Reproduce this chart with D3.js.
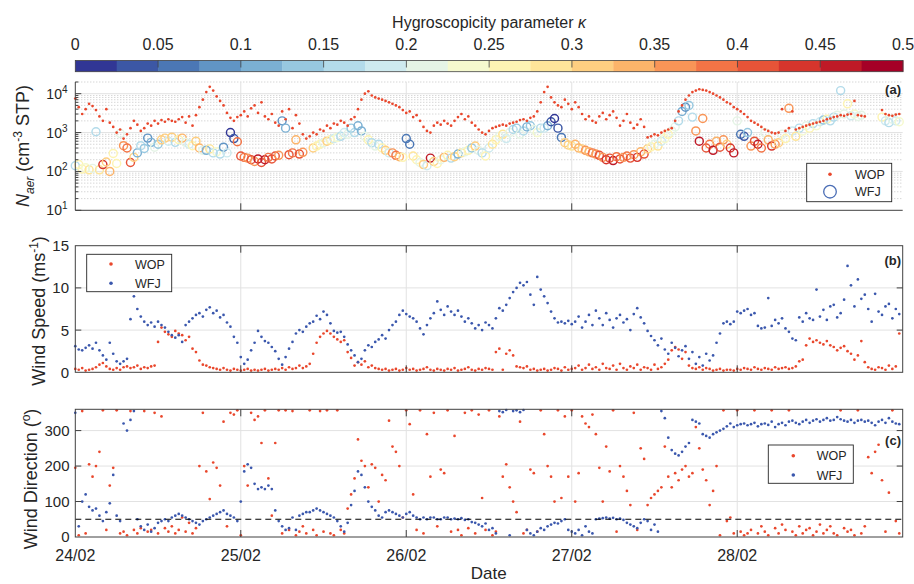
<!DOCTYPE html>
<html><head><meta charset="utf-8">
<script src="https://cdn.jsdelivr.net/npm/d3@7"></script>
<style>
body{margin:0;background:#fff}
svg{display:block}
text{font-family:"Liberation Sans",Arial,Helvetica,sans-serif;fill:#262626}
</style>
</head><body>
<svg id="c" width="914" height="584"></svg>
<script>
// ---------------- DATA ----------------
const dateLabels = ["24/02","25/02","26/02","27/02","28/02"];
const kappaTicks = [0,0.05,0.1,0.15,0.2,0.25,0.3,0.35,0.4,0.45,0.5];
const kappaTickLabels = ["0","0.05","0.1","0.15","0.2","0.25","0.3","0.35","0.4","0.45","0.5"];
const nTicksA = [10,100,1000,10000];
const nTickExp = ["1","2","3","4"];
const wsTicks = [0,5,10,15];
const wdTicks = [0,100,200,300];
const sampleStepHours = 0.5;   // half-hourly samples starting 24/02 00:00

// WOP aerosol number concentration (cm^-3 STP)
const wopN = [
7500,4500,3000,4000,5500,4800,3800,2600,2000,4000,1800,1400,1000,1200,700,900,1300,2000,1600,1100,
1300,1700,1500,2000,1700,2100,1900,2200,2000,1900,2200,2500,1800,2600,1500,2800,4500,7000,11000,15000,
12000,8500,6500,5000,3200,2400,2000,2500,2800,3500,2600,4200,5000,3200,6000,2600,2200,3000,1800,1500,
3500,2200,4000,1300,2800,1700,900,700,800,1000,900,1200,1100,1500,1300,1700,1600,2000,1800,1500,
2200,2500,4000,7000,10000,11500,9000,8000,7500,7000,6500,6000,5500,5000,4500,3800,3200,3500,2500,2800,
2000,1400,1100,1000,1500,1800,1600,2000,1700,1500,2000,2500,3000,2200,2600,1800,1500,1200,1000,900,
1100,1300,1400,1500,1600,1500,1700,1800,1900,2100,2200,2000,2400,2600,3500,6000,11000,15000,8000,6000,
5000,4500,7000,5500,4000,6000,4500,3000,2200,2600,2000,1800,2600,3200,2200,2800,3500,2400,1500,2000,
3000,1800,1300,1600,2200,1400,750,800,900,850,1000,1100,1200,1300,2000,3500,5000,7000,9000,11000,
12000,13000,12500,12000,11000,10000,9000,8000,7000,6000,5500,4500,4000,3500,3000,2500,2000,1800,1600,1400,
1200,1100,1000,950,1000,4000,1100,1300,3500,1200,1300,1400,1500,1600,1700,1800,1900,2000,2200,2300,
2500,2600,2800,2700,2900,3000,6500,2800,2700,2600,null,null,null,null,3800,3000,2800,2700,2900,3000
];
// WFJ aerosol number concentration (cm^-3 STP)
const wfjN = [
140,150,115,125,110,120,1050,110,150,175,100,290,160,950,460,400,170,230,300,460,
390,720,560,420,500,650,720,600,760,560,660,720,560,500,460,600,400,350,350,380,
300,320,280,420,300,1000,700,580,250,230,220,200,180,210,170,200,230,210,250,260,
2000,1300,270,300,650,280,310,null,null,400,450,500,550,600,650,700,750,800,1000,900,
1300,1000,1500,1100,800,650,550,450,500,400,350,300,300,260,240,230,700,500,250,200,
170,150,140,220,180,160,200,230,260,220,240,280,300,320,350,400,450,350,300,250,
400,500,650,800,900,700,1000,1200,1300,900,1100,1400,1500,1200,1000,1300,1300,1500,1900,2300,
1300,750,550,480,450,500,400,380,350,320,300,280,260,230,200,220,190,240,210,230,
250,220,270,230,320,280,380,430,500,450,600,700,900,1100,1400,2000,3500,4500,5000,2500,
1100,600,2300,400,500,350,600,420,650,500,400,300,2000,900,800,1000,450,600,500,400,
1000,650,450,500,550,900,700,4200,1100,800,1300,1100,1500,1300,1700,1500,1900,2100,2200,2000,
2500,2800,12000,3000,5500,2700,3000,2600,2800,null,null,null,null,null,2500,2000,1800,2200,2000,1900
];
// WFJ hygroscopicity parameter kappa
const wfjKappa = [
.17,.27,.26,.24,.29,.22,.17,.28,.43,.30,.33,.25,.27,.21,.35,.38,.42,.31,.12,.15,
.13,.08,.10,.20,.14,.30,.32,.19,.30,.17,.27,.33,.22,.18,.26,.31,.33,.20,.10,.28,
.17,.23,.15,.08,.18,.02,.03,.39,.40,.38,.35,.42,.37,.45,.40,.47,.38,.42,.40,.36,
.08,.11,.41,.38,.33,.40,.37,null,null,.30,.25,.27,.22,.32,.26,.18,.24,.15,.18,.21,
.14,.16,.12,.10,.20,.26,.17,.22,.16,.25,.30,.19,.36,.39,.33,.26,.05,.07,.28,.25,
.22,.31,.18,.45,.30,.27,.20,.33,.25,.16,.30,.10,.28,.21,.26,.13,.31,.20,.15,.26,
.19,.28,.25,.22,.28,.18,.20,.16,.14,.22,.17,.12,.14,.20,.24,.15,.18,.12,.03,.02,
.04,.06,.30,.32,.28,.34,.33,.30,.36,.33,.38,.35,.40,.37,.43,.41,.45,.38,.42,.36,
.39,.42,.37,.44,.33,.40,.30,.26,.22,.28,.18,.24,.25,.20,.22,.16,.12,.09,.14,.17,
.37,.45,.35,.42,.39,.45,.33,.40,.36,.30,.43,.47,.20,.07,.04,.14,.36,.41,.45,.38,
.22,.33,.44,.37,.32,.22,.26,.36,.18,.29,.15,.24,.20,.27,.17,.23,.19,.13,.25,.17,
.16,.22,.15,.20,.26,.18,.24,.20,.22,null,null,null,null,null,.25,.18,.16,.22,.19,.24
];
// Wind speed (m/s)
const wopWS = [
0.4,0.3,0.5,0.2,0.3,0.4,0.6,0.9,1.1,0.7,0.4,0.3,0.5,0.3,0.6,0.7,0.5,0.6,0.8,0.4,
0.6,0.5,0.7,0.8,3.6,5.3,4.8,4.5,4.2,4.9,4.6,4.4,3.8,4.2,2.8,2.4,1.4,0.9,0.8,0.6,
0.5,0.4,0.3,0.5,0.3,0.2,0.4,0.3,0.2,0.3,0.4,0.2,0.3,0.2,0.3,0.4,0.2,0.3,0.4,0.3,
0.5,0.3,0.6,0.4,0.5,0.8,0.5,0.7,1.0,2.2,3.5,4.2,4.6,4.9,4.6,4.2,3.9,3.6,3.8,2.4,
1.7,0.8,1.2,0.9,1.3,0.6,0.8,0.5,0.4,0.3,0.4,0.2,0.3,0.4,0.2,0.3,0.5,0.3,0.4,0.2,
0.3,0.4,0.6,0.3,0.2,0.4,0.3,0.2,0.4,0.3,0.5,0.2,0.3,0.4,0.6,0.3,0.2,0.4,0.3,0.5,
0.4,0.3,2.4,2.8,0.3,2.2,2.6,2.0,0.7,0.6,0.5,0.7,0.3,0.4,0.2,0.3,0.4,0.2,0.3,0.5,
0.4,0.2,0.6,0.3,0.4,0.5,0.8,0.3,0.5,0.9,0.4,0.6,0.3,1.0,0.5,0.4,0.8,0.3,1.0,0.5,
0.3,0.7,0.5,0.9,0.3,0.6,0.5,0.3,0.9,0.4,0.6,1.0,1.5,2.6,3.0,2.7,1.6,2.4,0.8,0.5,
0.4,0.6,0.3,0.5,0.4,0.2,0.3,0.4,0.2,0.3,0.3,0.2,0.4,0.3,0.5,0.4,0.3,0.6,0.4,0.3,
0.5,0.4,0.3,0.6,0.4,0.5,0.6,0.4,0.5,0.7,1.3,1.5,3.2,4.0,3.6,3.8,3.5,3.3,3.7,3.2,
3.0,2.6,2.9,3.1,2.5,2.2,1.5,2.0,3.7,1.2,0.6,0.4,0.3,0.6,0.5,0.3,0.8,0.4,0.7,4.6
];
const wfjWS = [
3.1,2.7,2.6,2.9,3.2,2.8,3.5,2.6,2.0,1.5,3.5,2.2,1.3,1.0,1.3,1.6,6.3,9.0,7.5,6.6,
6.0,5.6,5.9,5.4,6.0,5.6,5.3,4.8,4.4,4.1,4.4,3.6,5.6,6.0,6.4,6.8,7.0,6.6,7.4,7.7,
7.0,7.3,6.5,6.8,5.9,5.4,4.2,3.5,1.8,1.0,1.5,2.6,3.5,4.9,4.2,3.7,3.5,3.0,2.5,1.6,
0.9,1.8,2.8,3.6,4.6,5.0,4.8,5.4,5.8,6.0,6.7,6.3,7.2,6.8,5.8,4.9,4.7,4.8,4.2,3.3,
2.6,2.0,1.2,1.6,2.6,3.2,3.0,3.6,3.9,4.4,4.0,5.0,5.6,6.0,6.8,7.3,6.9,6.6,6.4,6.0,
5.2,4.5,5.6,6.4,7.0,8.4,7.4,6.8,7.8,7.2,6.8,7.3,6.6,6.0,6.4,5.8,5.2,5.6,5.0,5.9,
5.6,5.2,6.4,7.6,7.3,8.0,8.8,9.5,10.0,10.6,10.3,10.7,9.2,8.0,11.3,9.8,9.0,8.2,7.2,6.4,
5.9,6.0,5.8,6.1,5.7,6.0,6.6,5.3,6.0,6.8,5.6,7.3,6.4,5.6,7.0,6.2,5.3,6.4,6.8,5.9,
6.3,5.0,6.9,7.6,6.5,5.8,4.9,4.3,3.8,3.2,4.0,2.7,2.2,3.5,2.9,1.9,2.6,3.1,1.6,2.4,
1.0,1.8,0.8,2.2,1.4,2.0,3.5,4.6,5.8,6.0,5.7,6.0,7.2,7.0,7.3,7.5,6.8,7.0,5.5,5.2,
5.3,8.8,5.5,6.2,5.8,6.4,5.2,4.8,4.0,3.8,6.5,6.0,7.0,6.4,6.2,9.8,6.6,7.4,6.2,7.8,
8.0,6.5,7.0,8.6,12.6,10.3,7.8,11.0,8.7,9.2,7.5,6.0,9.3,7.2,6.8,7.8,8.1,6.4,7.5,6.9
];
// Wind direction (degrees)
const wopWD = [
195,5,355,10,205,170,200,240,357,20,145,195,357,10,15,5,355,20,10,25,
355,15,20,350,10,340,25,15,30,10,20,55,15,40,10,25,200,350,185,107,
210,195,145,325,30,350,345,357,5,200,145,350,330,340,265,357,165,60,265,357,
10,357,20,355,5,15,30,10,357,20,5,355,15,357,10,5,357,20,10,80,
120,165,275,215,200,140,205,195,100,175,160,328,255,240,200,55,357,318,120,20,
357,10,290,170,350,30,190,180,357,15,285,20,5,350,25,357,10,345,110,20,
357,5,15,340,170,205,140,100,70,325,10,20,190,180,15,357,290,200,170,100,
357,110,340,170,357,100,180,340,320,310,345,290,195,100,255,185,357,15,200,170,
130,90,350,20,250,220,90,110,120,130,140,255,170,140,180,160,190,200,170,180,
310,250,190,160,90,130,200,5,357,45,55,10,357,15,5,10,20,357,10,30,
15,5,357,25,10,35,20,357,15,5,30,10,20,25,5,15,35,10,20,30,
10,5,357,25,15,20,5,357,10,30,225,180,240,260,160,15,125,357,45,10
];
const wfjWD = [
350,30,100,120,85,75,80,60,45,70,95,175,60,45,320,300,330,355,50,30,
20,35,15,25,40,45,50,45,55,60,65,60,55,50,45,40,35,45,50,55,
60,65,70,75,65,60,55,45,100,185,205,195,150,135,140,135,145,135,75,45,
30,20,25,55,20,60,65,70,70,75,80,75,70,65,60,55,45,30,15,40,
90,130,185,175,140,100,85,75,60,55,70,75,70,65,60,55,65,70,60,55,
50,55,50,55,55,50,50,55,55,50,52,50,53,48,50,42,40,35,30,38,
20,25,10,355,352,358,5,355,357,352,358,20,10,5,15,25,20,30,35,40,
38,45,50,20,15,10,20,5,30,15,10,50,52,53,55,52,54,50,52,48,
40,35,30,25,40,50,45,20,35,15,355,335,280,245,235,230,240,255,265,330,
325,320,290,285,280,290,295,300,305,312,320,310,315,318,320,315,318,322,312,318,
320,316,325,310,318,322,315,325,328,322,318,325,330,322,328,332,325,330,335,328,
330,338,332,328,325,330,322,328,330,325,328,322,315,325,330,322,335,325,320,318
];
const wdThreshold = 50;

// ---------------- DRAWING ----------------
const svg = d3.select("#c");
const AX = "#404040", GRID = "#e2e2e2", MINOR = "#b8b8b8";
const RED = "#e9472c", BLUE = "#3a57ad";
const xL = 75.3, xR = 902.7;
const x = d3.scaleLinear().domain([0, 120]).range([xL, xR]);
const dayTicks = dateLabels.map((d, i) => i * 24);
const hrs = wopN.map((d, i) => i * sampleStepHours);

const nSeg = 20;
const segColors = d3.range(nSeg).map(i => d3.interpolateRdYlBu(1 - i / (nSeg - 1)));
const kColor = k => segColors[Math.max(0, Math.min(nSeg - 1, Math.floor(k / 0.025 + 1e-9)))];

// ---- colorbar ----
const cb = d3.scaleLinear().domain([0, 0.5]).range([75.3, 903]);
const cbTop = 60.5, cbH = 11.2;
svg.append("text").attr("x", 489).attr("y", 27.5).attr("text-anchor", "middle")
  .attr("font-size", 16).text("Hygroscopicity parameter ")
  .append("tspan").attr("font-style", "italic").text("κ");
svg.append("g").selectAll("rect").data(segColors).join("rect")
  .attr("x", (d, i) => cb(i * 0.025)).attr("y", cbTop)
  .attr("width", (d, i) => cb((i + 1) * 0.025) - cb(i * 0.025) + 0.4)
  .attr("height", cbH).attr("fill", d => d);
svg.append("rect").attr("x", cb(0)).attr("y", cbTop).attr("width", cb(0.5) - cb(0))
  .attr("height", cbH).attr("fill", "none").attr("stroke", AX).attr("stroke-width", 0.8);
svg.append("g").selectAll("line").data(kappaTicks.slice(1, -1)).join("line")
  .attr("x1", d => cb(d)).attr("x2", d => cb(d)).attr("y1", cbTop).attr("y2", cbTop + 7)
  .attr("stroke", AX).attr("stroke-width", 0.8);
svg.append("g").selectAll("text").data(kappaTicks).join("text")
  .attr("x", d => cb(d)).attr("y", 49.5).attr("text-anchor", "middle")
  .attr("font-size", 16).text((d, i) => kappaTickLabels[i]);

// helpers
function vGrid(g, yTop, yBot) {
  g.append("g").selectAll("line").data(dayTicks.slice(1)).join("line")
    .attr("x1", d => x(d)).attr("x2", d => x(d)).attr("y1", yTop).attr("y2", yBot)
    .attr("stroke", GRID).attr("stroke-width", 1);
}
function xTicks(g, yTop, yBot, top) {
  g.append("g").selectAll("line").data(dayTicks.slice(1)).join("line")
    .attr("x1", d => x(d)).attr("x2", d => x(d)).attr("y1", yBot).attr("y2", yBot - 7)
    .attr("stroke", AX);
  if (top) g.append("g").selectAll("line").data(dayTicks.slice(1)).join("line")
    .attr("x1", d => x(d)).attr("x2", d => x(d)).attr("y1", yTop).attr("y2", yTop + 7)
    .attr("stroke", AX);
}
function dots(g, vals, y, color, r) {
  g.append("g").selectAll("circle")
    .data(vals.map((v, i) => [hrs[i], v]).filter(d => d[1] != null))
    .join("circle").attr("cx", d => x(d[0])).attr("cy", d => y(d[1]))
    .attr("r", r).attr("fill", color);
}
function rotLabel(xp, yp, parts) {
  const t = svg.append("text").attr("transform", `translate(${xp},${yp}) rotate(-90)`)
    .attr("text-anchor", "middle").attr("font-size", 18);
  parts.forEach(p => {
    const s = t.append("tspan").text(p.t);
    if (p.fs) s.attr("font-size", p.fs);
    if (p.dy) s.attr("dy", p.dy);
    if (p.it) s.attr("font-style", "italic");
  });
}
function legend(g, x0, y0, w, h, items) {
  g.append("rect").attr("x", x0).attr("y", y0).attr("width", w).attr("height", h)
    .attr("fill", "#fff").attr("stroke", "#262626").attr("stroke-width", 0.9);
  items.forEach(it => {
    if (it.ring) g.append("circle").attr("cx", it.mx).attr("cy", it.my).attr("r", 6.3)
      .attr("fill", "none").attr("stroke", it.color).attr("stroke-width", 1.3);
    else g.append("circle").attr("cx", it.mx).attr("cy", it.my).attr("r", 1.8).attr("fill", it.color);
    g.append("text").attr("x", it.tx).attr("y", it.my).attr("dy", "0.36em")
      .attr("font-size", 12.5).text(it.label);
  });
}

// ---- Panel (a) ----
const yA = d3.scaleLog().domain([10, 20000]).range([210.3, 82]);
const gA = svg.append("g");
const minorA = [];
nTicksA.forEach(dec => { for (let m = 2; m <= 9; m++) if (m * dec <= 20000) minorA.push(m * dec); });
gA.append("g").selectAll("line").data(minorA).join("line")
  .attr("x1", xL).attr("x2", xR).attr("y1", d => yA(d)).attr("y2", d => yA(d))
  .attr("stroke", MINOR).attr("stroke-width", 0.8).attr("stroke-dasharray", "1,2");
gA.append("g").selectAll("line").data(nTicksA.slice(1)).join("line")
  .attr("x1", xL).attr("x2", xR).attr("y1", d => yA(d)).attr("y2", d => yA(d))
  .attr("stroke", GRID).attr("stroke-width", 1);
vGrid(gA, 82, 210.3);
gA.append("g").selectAll("circle")
  .data(wfjN.map((v, i) => [hrs[i], v, wfjKappa[i]]).filter(d => d[1] != null))
  .join("circle").attr("cx", d => x(d[0])).attr("cy", d => yA(d[1])).attr("r", 4)
  .attr("fill", "none").attr("stroke", d => kColor(d[2])).attr("stroke-width", 1.45);
dots(gA, wopN, yA, RED, 1.35);
gA.append("line").attr("x1", xL).attr("x2", xL).attr("y1", 82).attr("y2", 210.3).attr("stroke", AX);
gA.append("line").attr("x1", xL).attr("x2", xR).attr("y1", 210.3).attr("y2", 210.3).attr("stroke", AX);
gA.append("g").selectAll("line").data(minorA).join("line")
  .attr("x1", xL).attr("x2", xL + 3).attr("y1", d => yA(d)).attr("y2", d => yA(d)).attr("stroke", AX);
gA.append("g").selectAll("line").data(nTicksA).join("line")
  .attr("x1", xL).attr("x2", xL + 6).attr("y1", d => yA(d)).attr("y2", d => yA(d)).attr("stroke", AX);
xTicks(gA, 82, 210.3, false);
nTicksA.forEach((d, i) => {
  const t = gA.append("text").attr("x", 67.5).attr("y", yA(d) + 5).attr("text-anchor", "end").attr("font-size", 14);
  t.append("tspan").text("10");
  t.append("tspan").attr("font-size", 10).attr("dy", -6).text(nTickExp[i]);
});
gA.append("text").attr("x", 901).attr("y", 94).attr("text-anchor", "end")
  .attr("font-size", 13).attr("font-weight", "bold").text("(a)");
legend(gA, 806.7, 163.3, 85, 38.4, [
  {mx: 830, my: 174.3, tx: 855, label: "WOP", color: RED},
  {mx: 830, my: 191.7, tx: 855, label: "WFJ", color: "#4a6db5", ring: true}
]);
rotLabel(28.5, 146, [
  {t: "N", it: true}, {t: "aer", it: true, fs: 12, dy: 5}, {t: " (cm", fs: 18, dy: -5},
  {t: "-3", fs: 12, dy: -7}, {t: " STP)", fs: 18, dy: 7}
]);

// ---- Panel (b) ----
const yB = d3.scaleLinear().domain([0, 15]).range([372.3, 245.7]);
const gB = svg.append("g");
gB.append("g").selectAll("line").data([5, 10]).join("line")
  .attr("x1", xL).attr("x2", xR).attr("y1", d => yB(d)).attr("y2", d => yB(d)).attr("stroke", GRID);
vGrid(gB, 245.7, 372.3);
dots(gB, wopWS, yB, RED, 1.35);
dots(gB, wfjWS, yB, BLUE, 1.35);
gB.append("rect").attr("x", xL).attr("y", 245.7).attr("width", xR - xL).attr("height", 372.3 - 245.7)
  .attr("fill", "none").attr("stroke", AX);
xTicks(gB, 245.7, 372.3, true);
gB.append("g").selectAll("line").data([5, 10]).join("line")
  .attr("x1", xL).attr("x2", xL + 6).attr("y1", d => yB(d)).attr("y2", d => yB(d)).attr("stroke", AX);
gB.append("g").selectAll("line").data([5, 10]).join("line")
  .attr("x1", xR).attr("x2", xR - 6).attr("y1", d => yB(d)).attr("y2", d => yB(d)).attr("stroke", AX);
gB.append("g").selectAll("text").data(wsTicks).join("text")
  .attr("x", 69).attr("y", d => yB(d)).attr("dy", "0.36em").attr("text-anchor", "end")
  .attr("font-size", 15).text(d => d);
gB.append("text").attr("x", 901).attr("y", 264.5).attr("text-anchor", "end")
  .attr("font-size", 13).attr("font-weight", "bold").text("(b)");
legend(gB, 86.7, 254.3, 85, 37.4, [
  {mx: 111, my: 264, tx: 135, label: "WOP", color: RED},
  {mx: 111, my: 283.3, tx: 135, label: "WFJ", color: BLUE}
]);
rotLabel(45, 311, [{t: "Wind Speed (ms"}, {t: "-1", fs: 12, dy: -7}, {t: ")", fs: 18, dy: 7}]);

// ---- Panel (c) ----
const yC = d3.scaleLinear().domain([0, 360]).range([537, 409.3]);
const gC = svg.append("g");
gC.append("g").selectAll("line").data([100, 200, 300]).join("line")
  .attr("x1", xL).attr("x2", xR).attr("y1", d => yC(d)).attr("y2", d => yC(d)).attr("stroke", GRID);
vGrid(gC, 409.3, 537);
dots(gC, wopWD, yC, RED, 1.35);
dots(gC, wfjWD, yC, BLUE, 1.35);
gC.append("line").attr("x1", xL).attr("x2", xR).attr("y1", yC(wdThreshold)).attr("y2", yC(wdThreshold))
  .attr("stroke", "#000").attr("stroke-width", 1.1).attr("stroke-dasharray", "6,4");
gC.append("rect").attr("x", xL).attr("y", 409.3).attr("width", xR - xL).attr("height", 537 - 409.3)
  .attr("fill", "none").attr("stroke", AX);
xTicks(gC, 409.3, 537, true);
gC.append("g").selectAll("line").data([100, 200, 300]).join("line")
  .attr("x1", xL).attr("x2", xL + 6).attr("y1", d => yC(d)).attr("y2", d => yC(d)).attr("stroke", AX);
gC.append("g").selectAll("line").data([100, 200, 300]).join("line")
  .attr("x1", xR).attr("x2", xR - 6).attr("y1", d => yC(d)).attr("y2", d => yC(d)).attr("stroke", AX);
gC.append("g").selectAll("text").data(wdTicks).join("text")
  .attr("x", 69.5).attr("y", d => yC(d)).attr("dy", "0.36em").attr("text-anchor", "end")
  .attr("font-size", 15).text(d => d);
gC.append("text").attr("x", 901).attr("y", 445).attr("text-anchor", "end")
  .attr("font-size", 13).attr("font-weight", "bold").text("(c)");
legend(gC, 768.3, 445, 85, 38.3, [
  {mx: 793.3, my: 455.7, tx: 816.7, label: "WOP", color: RED},
  {mx: 793.3, my: 475, tx: 816.7, label: "WFJ", color: BLUE}
]);
rotLabel(37, 479, [{t: "Wind Direction ("}, {t: "o", fs: 12, dy: -7}, {t: ")", fs: 18, dy: 7}]);

// date axis labels
svg.append("g").selectAll("text").data(dayTicks).join("text")
  .attr("x", d => x(d)).attr("y", 561).attr("text-anchor", "middle")
  .attr("font-size", 16).text((d, i) => dateLabels[i]);
svg.append("text").attr("x", 488.7).attr("y", 579).attr("text-anchor", "middle")
  .attr("font-size", 17).text("Date");
</script>
</body></html>
